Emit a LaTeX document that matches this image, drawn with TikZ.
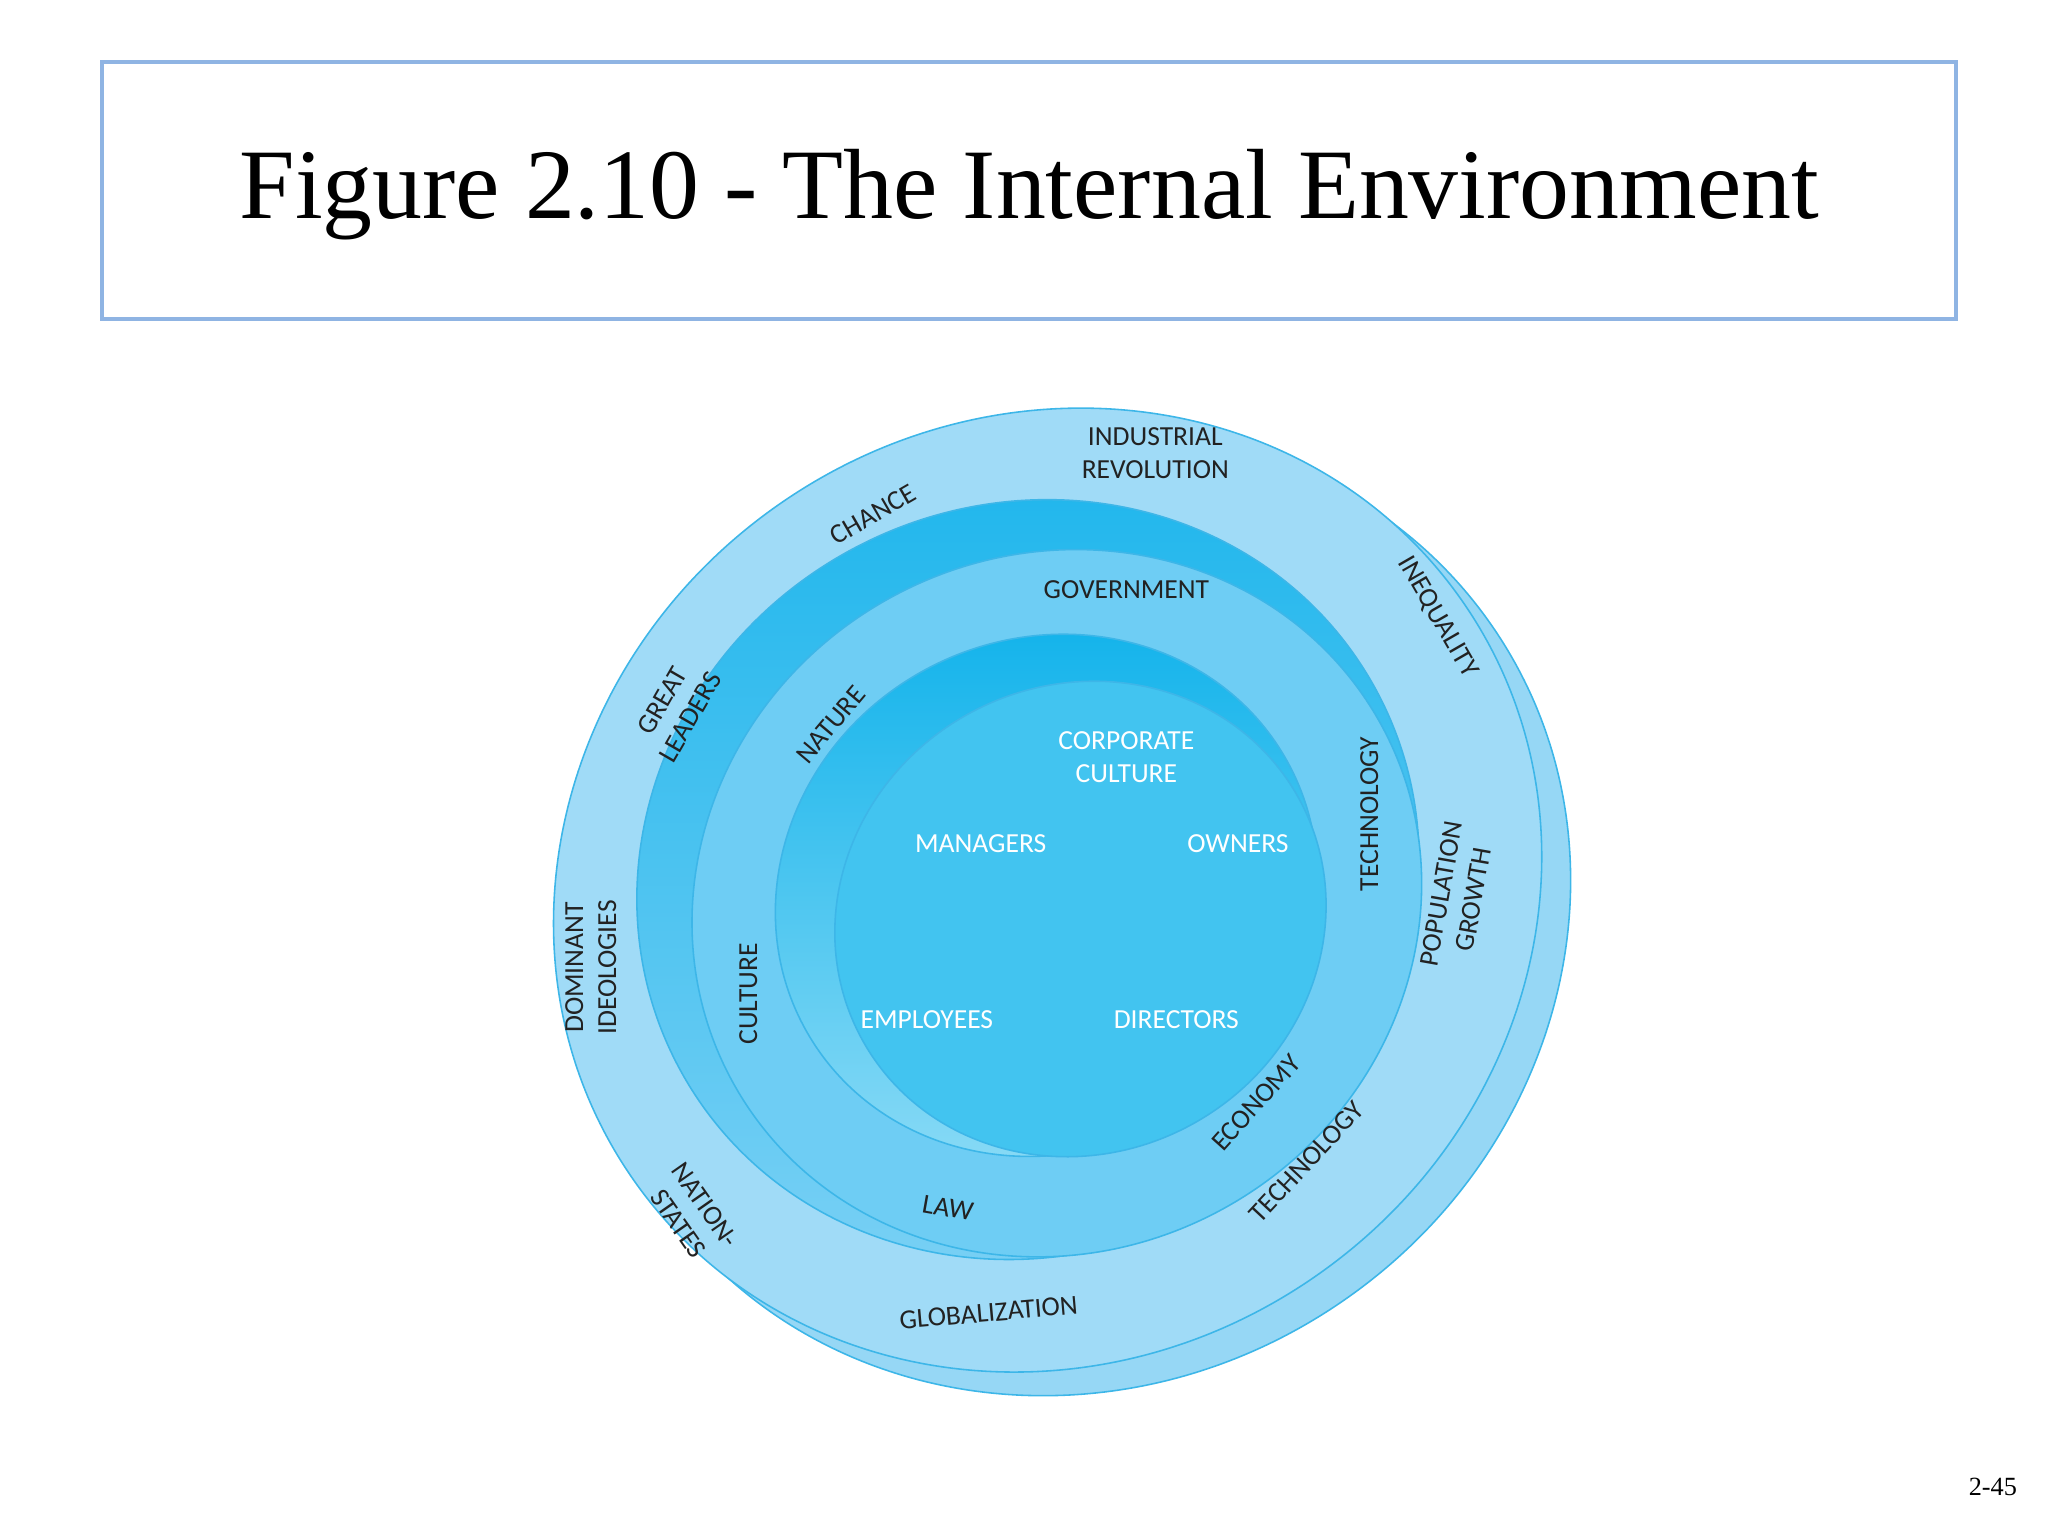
\documentclass[tikz,border=0pt]{standalone}
\usepackage{fontspec}
\setmainfont{Liberation Serif}
\newfontfamily\lab{Carlito}
\definecolor{outerc}{HTML}{A0DBF7}
\definecolor{edgec}{HTML}{3DB6E8}
\definecolor{ringc}{HTML}{6ECDF4}
\definecolor{darkc}{HTML}{0AB0EA}
\definecolor{corec}{HTML}{42C4F0}
\definecolor{boxc}{HTML}{8FB4E3}
\definecolor{txtc}{HTML}{222222}
\begin{document}
\begin{tikzpicture}[x=0.5pt,y=-0.5pt,
  lbl/.style={font=\lab\fontsize{10.5}{12.5}\selectfont,text=txtc,align=center,inner sep=1pt},
  wl/.style={font=\lab\fontsize{10.5}{12.5}\selectfont,text=white,align=center,inner sep=1pt},
  ell/.style={draw=edgec,line width=0.6pt}]
\useasboundingbox (0,0) rectangle (1560,1170);
\fill[white] (0,0) rectangle (1560,1170);
\node[draw=boxc,line width=1.5pt,minimum width=706pt,minimum height=98pt] (box) at (784,145) {};
\node[font=\fontsize{38}{42}\selectfont] (title) at (784,148) {Figure 2.10 - The Internal Environment};
% back shadow
\fill[ell,fill=outerc!90!edgec,rotate around={35:(820,696)}] (820,696) ellipse [x radius=385,y radius=358];
\fill[ell,fill=outerc,rotate around={35:(798,678)}] (798,678) ellipse [x radius=385,y radius=358];
% ring 2
\shade[top color=darkc!75!ringc,bottom color=ringc!70!outerc,rotate around={30:(783,670)}] (783,670) ellipse [x radius=302,y radius=285];
\draw[edgec,line width=0.6pt,rotate around={30:(783,670)}] (783,670) ellipse [x radius=302,y radius=285];
\fill[ell,fill=ringc,rotate around={30:(805,688)}] (805,688) ellipse [x radius=282,y radius=265];
% ring 4
\shade[top color=darkc!80!corec,bottom color=corec!60!white,rotate around={30:(797,682)}] (797,682) ellipse [x radius=210,y radius=195];
\draw[edgec,line width=0.6pt,rotate around={30:(797,682)}] (797,682) ellipse [x radius=210,y radius=195];
\fill[ell,fill=corec,rotate around={30:(823,700)}] (823,700) ellipse [x radius=190,y radius=178];
% labels
\node[lbl] (ir) at (880,345) {INDUSTRIAL\\REVOLUTION};
\node[lbl,rotate=30] (ch) at (665,392) {CHANCE};
\node[lbl,rotate=-60] (ineq) at (1095,470) {INEQUALITY};
\node[lbl,rotate=60] (gl) at (515,540) {GREAT\\LEADERS};
\node[lbl] (gov) at (858,449) {GOVERNMENT};
\node[lbl,rotate=50] (nat) at (633,552) {NATURE};
\node[lbl,rotate=90] (tech1) at (1043,620) {TECHNOLOGY};
\node[lbl,rotate=80] (pop) at (1110,683) {POPULATION\\GROWTH};
\node[lbl,rotate=90] (dom) at (450,737) {DOMINANT\\IDEOLOGIES};
\node[lbl,rotate=90] (cul) at (570,757) {CULTURE};
\node[wl] (cc) at (858,577) {CORPORATE\\CULTURE};
\node[wl] (man) at (747,643) {MANAGERS};
\node[wl] (own) at (943,643) {OWNERS};
\node[wl] (emp) at (706,777) {EMPLOYEES};
\node[wl] (dir) at (896,777) {DIRECTORS};
\node[lbl,rotate=48] (eco) at (957,840) {ECONOMY};
\node[lbl,rotate=47] (tech2) at (995,885) {TECHNOLOGY};
\node[lbl,rotate=-55] (ns) at (527,925) {NATION-\\STATES};
\node[lbl,rotate=-10] (law) at (722,920) {LAW};
\node[lbl,rotate=5] (glob) at (753,1000) {GLOBALIZATION};
\node[font=\fontsize{10}{11}\selectfont] (pg) at (1518,1133) {2-45};
\end{tikzpicture}
\end{document}
